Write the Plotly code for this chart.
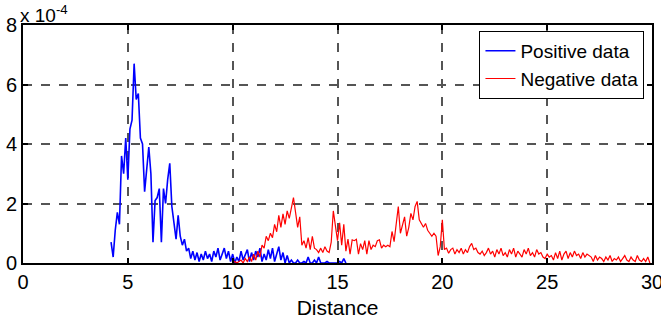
import numpy as np
import plotly.graph_objects as go

# Distance sampling (start, step) for each series
pos_start, pos_step = 4.2, 0.1
neg_start, neg_step = 10.0, 0.1

# Values in units of 1e-4
positive_vals = [
    0.7, 0.2, 1.1, 1.7, 1.3, 3.6, 3.0, 4.2, 2.8, 4.5,
    4.8, 6.7, 5.5, 5.7, 4.2, 4.0, 2.4, 3.1, 3.9, 3.0,
    0.7, 2.1, 2.2, 2.5, 0.7, 2.5, 2.0, 2.8, 3.35, 1.9,
    1.4, 0.8, 1.6, 0.9, 0.6, 0.8, 0.4, 0.5, 0.15, 0.4,
    0.1, 0.35, 0.05, 0.3, 0.1, 0.4, 0.15, 0.3, 0.05, 0.4,
    0.2, 0.5, 0.1, 0.3, 0.5, 0.15, 0.4, 0.05, 0.3, 0.0,
    0.2, 0.05, 0.4, 0.1, 0.3, 0.45, 0.05, 0.35, 0.1, 0.4,
    0.2, 0.5, 0.05, 0.3, 0.1, 0.45, 0.15, 0.5, 0.05, 0.3,
    0.55, 0.1, 0.35, 0.0, 0.25, 0.0, 0.1, 0.0, 0.0, 0.1,
    0.0, 0.0, 0.05, 0.0, 0.2, 0.0, 0.0, 0.1, 0.0, 0.2,
    0.0, 0.0, 0.0, 0.05, 0.0, 0.0, 0.0, 0.0, 0.0, 0.05,
    0.0, 0.15, 0.0,
]

negative_vals = [
    0.0, 0.05, 0.0, 0.05, 0.1, 0.0, 0.15, 0.05, 0.2, 0.05,      # 10.0-10.9
    0.3, 0.1, 0.4, 0.2, 0.6, 0.5, 0.9, 0.75, 1.0, 0.85,         # 11.0-11.9
    1.3, 1.05, 1.6, 1.2, 1.65, 1.3, 1.75, 1.5, 1.9, 2.2,        # 12.0-12.9
    1.7, 1.2, 1.55, 0.6, 0.75, 0.5, 0.85, 0.45, 0.9, 0.5,       # 13.0-13.9
    0.45, 0.35, 0.5, 0.35, 0.55, 0.4, 0.35, 0.7, 1.75, 1.3,     # 14.0-14.9
    0.75, 1.35, 0.6, 1.3, 0.4, 0.8, 0.3, 0.78, 0.75, 0.8,       # 15.0-15.9
    0.3, 0.65, 0.45, 0.75, 0.3, 0.75, 0.45, 0.6, 0.55, 0.75,    # 16.0-16.9
    0.78, 0.5, 0.6, 0.55, 0.6, 0.55, 1.06, 0.72, 1.33, 1.9,     # 17.0-17.9
    1.0, 1.3, 1.55, 0.9, 1.2, 1.67, 1.45, 1.9, 2.07, 1.45,      # 18.0-18.9
    1.3, 1.2, 1.33, 1.1, 1.0, 0.9, 1.0, 0.9, 0.25, 0.55,        # 19.0-19.9
    1.45, 0.45, 0.5, 0.33, 0.45, 0.5, 0.3, 0.45, 0.35, 0.5,     # 20.0-20.9
    0.3, 0.45, 0.35, 0.55, 0.66, 0.45, 0.5, 0.35, 0.3, 0.4,     # 21.0-21.9
    0.25, 0.35, 0.5, 0.3, 0.4, 0.2, 0.45, 0.3, 0.5, 0.25,       # 22.0-22.9
    0.35, 0.2, 0.45, 0.3, 0.5, 0.2, 0.4, 0.3, 0.2, 0.45,        # 23.0-23.9
    0.3, 0.5, 0.25, 0.35, 0.2, 0.45, 0.3, 0.35, 0.2, 0.15,      # 24.0-24.9
    0.3, 0.2, 0.25, 0.1, 0.35, 0.15, 0.4, 0.1, 0.3, 0.4,        # 25.0-25.9
    0.15, 0.35, 0.2, 0.4, 0.25, 0.3, 0.15, 0.35, 0.2, 0.3,      # 26.0-26.9
    0.25, 0.2, 0.05, 0.25, 0.1, 0.2, 0.15, 0.05, 0.2, 0.1,      # 27.0-27.9
    0.25, 0.05, 0.15, 0.1, 0.2, 0.05, 0.15, 0.25, 0.1, 0.05,    # 28.0-28.9
    0.2, 0.1, 0.05, 0.25, 0.1, 0.05, 0.15, 0.05, 0.2, 0.0,      # 29.0-29.9
]

x_ticks = [0, 5, 10, 15, 20, 25, 30]
y_ticks = [0, 2, 4, 6, 8]

pos_x = np.round(pos_start + pos_step * np.arange(len(positive_vals)), 3)
neg_x = np.round(neg_start + neg_step * np.arange(len(negative_vals)), 3)

FONT = "Liberation Sans, Arial, sans-serif"

fig = go.Figure()
fig.add_trace(go.Scatter(x=pos_x, y=positive_vals, mode="lines", name="Positive data",
                         line=dict(color="#0000ff", width=1.6)))
fig.add_trace(go.Scatter(x=neg_x, y=negative_vals, mode="lines", name="Negative data",
                         line=dict(color="#ff0000", width=1.2)))

axis_common = dict(showline=True, linecolor="black", linewidth=2, mirror="ticks",
                   ticks="inside", ticklen=5, tickcolor="black", tickwidth=1.5,
                   showgrid=True, gridcolor="#555555", gridwidth=1.5, griddash="dash",
                   zeroline=False, automargin=False,
                   tickfont=dict(family=FONT, size=20, color="black"))

fig.update_xaxes(range=[0, 30], tickvals=x_ticks, ticklabeloverflow="allow", **axis_common,
                 title=dict(text="Distance", font=dict(family=FONT, size=21, color="black"),
                            standoff=8))
fig.update_yaxes(range=[0, 8], tickvals=y_ticks, **axis_common)

fig.add_annotation(xref="paper", yref="paper", x=0, y=1, xanchor="left", yanchor="bottom",
                   text="x 10<sup>-4</sup>", showarrow=False, yshift=-3, xshift=-5,
                   font=dict(family=FONT, size=19, color="black"))

fig.update_layout(
    width=661, height=330,
    margin=dict(l=23, r=9, t=25, b=67, autoexpand=False),
    paper_bgcolor="white", plot_bgcolor="white",
    showlegend=True,
    legend=dict(x=0.988, y=0.975, xanchor="right", yanchor="top",
                bgcolor="white", bordercolor="black", borderwidth=1,
                font=dict(family=FONT, size=19, color="black"),
                tracegroupgap=0, itemwidth=30),
)

fig.write_html("out.html")
